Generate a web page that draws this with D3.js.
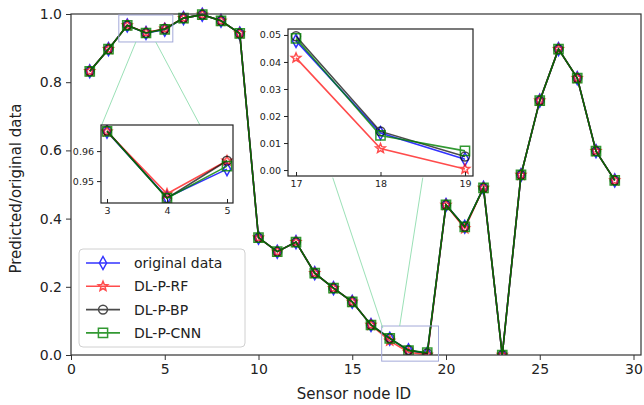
<!DOCTYPE html>
<html>
<head>
<meta charset="utf-8">
<script src="https://cdn.jsdelivr.net/npm/d3@7"></script>
<style>
  body { margin: 0; background: #fff; }
  text { font-family: "DejaVu Sans", sans-serif; fill: #222; }
</style>
</head>
<body>
<svg id="chart" width="644" height="405"></svg>
<script>
// data
const nodeIds = [1, 2, 3, 4, 5, 6, 7, 8, 9, 10, 11, 12, 13, 14, 15, 16, 17, 18, 19, 20, 21, 22, 23, 24, 25, 26, 27, 28, 29];
const originalData = [0.832, 0.897, 0.9665, 0.9445, 0.954, 0.988, 0.998, 0.980, 0.943, 0.344, 0.303, 0.331, 0.240, 0.196, 0.156, 0.088, 0.0478, 0.0137, 0.004, 0.440, 0.376, 0.490, 0.0, 0.528, 0.746, 0.897, 0.812, 0.598, 0.512];
const rfData       = [0.832, 0.897, 0.9665, 0.9458, 0.9568, 0.988, 0.998, 0.980, 0.943, 0.344, 0.303, 0.331, 0.240, 0.196, 0.156, 0.088, 0.0415, 0.0080, 0.0004, 0.440, 0.371, 0.490, 0.0, 0.528, 0.746, 0.897, 0.812, 0.598, 0.512];
const bpData       = [0.832, 0.897, 0.9668, 0.9443, 0.9568, 0.988, 0.998, 0.980, 0.943, 0.344, 0.303, 0.331, 0.240, 0.196, 0.156, 0.088, 0.0495, 0.0143, 0.0050, 0.440, 0.376, 0.490, 0.0, 0.528, 0.746, 0.897, 0.812, 0.598, 0.512];
const cnnData      = [0.832, 0.897, 0.9666, 0.9443, 0.9550, 0.988, 0.998, 0.980, 0.943, 0.344, 0.303, 0.331, 0.240, 0.196, 0.156, 0.088, 0.0487, 0.0128, 0.0071, 0.440, 0.376, 0.490, 0.0, 0.528, 0.746, 0.897, 0.812, 0.598, 0.512];
const seriesNames = ["original data", "DL-P-RF", "DL-P-BP", "DL-P-CNN"];

const xTicks = [0, 5, 10, 15, 20, 25, 30];
const yTicks = [0.0, 0.2, 0.4, 0.6, 0.8, 1.0];
const inset1XTicks = [3, 4, 5];
const inset1YTicks = [0.95, 0.96];
const inset2XTicks = [17, 18, 19];
const inset2YTicks = [0.00, 0.01, 0.02, 0.03, 0.04, 0.05];

const svg = d3.select("#chart");

const styles = [
    { color: "#0000ff", opacity: 0.8, marker: "diamond" },
    { color: "#ff0000", opacity: 0.7, marker: "star" },
    { color: "#000000", opacity: 0.7, marker: "circle" },
    { color: "#008000", opacity: 0.8, marker: "square" }
];
const allSeries = [originalData, rfData, bpData, cnnData].map((vals, i) => ({
    name: seriesNames[i],
    style: styles[i],
    points: nodeIds.map((id, j) => ({ x: id, y: vals[j] }))
}));

// marker shapes
function markerPath(type) {
    if (type === "diamond") return "M0,-6.5L3.6,0L0,6.5L-3.6,0Z";
    if (type === "square") return "M-4.6,-4.6H4.6V4.6H-4.6Z";
    if (type === "circle") return d3.symbol(d3.symbolCircle, 62)();
    // 5 point star
    let pts = [];
    for (let k = 0; k < 10; k++) {
        const r = k % 2 === 0 ? 5 : 2.2;
        const a = -Math.PI / 2 + k * Math.PI / 5;
        pts.push([r * Math.cos(a), r * Math.sin(a)]);
    }
    return "M" + pts.map(p => p.join(",")).join("L") + "Z";
}

function drawSeries(g, x, y, keep) {
    const line = d3.line().x(d => x(d.x)).y(d => y(d.y));
    allSeries.forEach(s => {
        const pts = s.points.filter(d => !keep || (d.x >= keep[0] && d.x <= keep[1]));
        const sg = g.append("g").attr("opacity", s.style.opacity);
        sg.append("path")
            .attr("d", line(pts))
            .attr("fill", "none")
            .attr("stroke", s.style.color)
            .attr("stroke-width", 1.6);
        sg.selectAll("path.m")
            .data(pts)
            .enter().append("path")
            .attr("class", "m")
            .attr("transform", d => `translate(${x(d.x)},${y(d.y)})`)
            .attr("d", markerPath(s.style.marker))
            .attr("fill", "none")
            .attr("stroke", s.style.color)
            .attr("stroke-width", 1.5);
    });
}

// **main axes**
const mLeft = 71, mRight = 641, mTop = 14, mBottom = 355;
const x = d3.scaleLinear().domain([0, 30.4]).range([mLeft, mRight]);
const y = d3.scaleLinear().domain([0, 1]).range([mBottom, mTop]);

const xAxis = svg.append("g").attr("transform", `translate(0,${mBottom})`)
    .call(d3.axisBottom(x).tickValues(xTicks).tickFormat(d3.format("d")).tickSize(5).tickPadding(4));
const yAxis = svg.append("g").attr("transform", `translate(${mLeft},0)`)
    .call(d3.axisLeft(y).tickValues(yTicks).tickFormat(d3.format(".1f")).tickSize(5).tickPadding(4));
[xAxis, yAxis].forEach(a => {
    a.select(".domain").remove();
    a.selectAll("line").attr("stroke", "#333").attr("stroke-width", 1);
    a.selectAll("text").attr("font-size", 14).attr("fill", "#222");
});

const clipMain = svg.append("clipPath").attr("id", "clipMain");
clipMain.append("rect").attr("x", mLeft).attr("y", mTop - 8).attr("width", mRight - mLeft).attr("height", mBottom - mTop + 8);

drawSeries(svg.append("g").attr("clip-path", "url(#clipMain)"), x, y, null);

// frame
svg.append("rect")
    .attr("x", mLeft).attr("y", mTop).attr("width", mRight - mLeft).attr("height", mBottom - mTop)
    .attr("fill", "none").attr("stroke", "#333").attr("stroke-width", 1.2);

svg.append("text").attr("x", (mLeft + mRight) / 2 - 2).attr("y", 399)
    .attr("text-anchor", "middle").attr("font-size", 15).text("Sensor node ID");
svg.append("text").attr("transform", `translate(21,${(mTop + mBottom) / 2 + 4}) rotate(-90)`)
    .attr("text-anchor", "middle").attr("font-size", 15).text("Predicted/original data");

// zoom boxes and connector lines
const boxColor = "#a3a9d9", connColor = "#8fdcae";
function zoomBox(x0, x1, y0, y1) {
    svg.append("rect")
        .attr("x", x(x0)).attr("y", y(y1))
        .attr("width", x(x1) - x(x0)).attr("height", y(y0) - y(y1))
        .attr("fill", "none").attr("stroke", boxColor).attr("stroke-width", 1);
}
function connector(a, b) {
    svg.append("line")
        .attr("x1", x(a[0])).attr("y1", y(a[1]))
        .attr("x2", x(b[0])).attr("y2", y(b[1]))
        .attr("stroke", connColor).attr("stroke-width", 0.9);
}
zoomBox(2.55, 5.43, 0.918, 0.997);
zoomBox(16.57, 19.6, -0.018, 0.085);
connector([3.46, 0.918], [1.64, 0.675]);
connector([4.52, 0.918], [6.87, 0.675]);
connector([16.63, 0.079], [13.96, 0.52]);
connector([17.53, 0.085], [18.76, 0.52]);

// **insets**
function inset(id, box, xDom, yDom, xt, yt, yFmt) {
    const ix = d3.scaleLinear().domain(xDom).range([box.x0, box.x1]);
    const iy = d3.scaleLinear().domain(yDom).range([box.y1, box.y0]);
    svg.append("rect")
        .attr("x", box.x0).attr("y", box.y0).attr("width", box.x1 - box.x0).attr("height", box.y1 - box.y0)
        .attr("fill", "#fff");
    const clipInner = svg.append("clipPath").attr("id", id + "in");
    clipInner.append("rect").attr("x", box.x0).attr("y", box.y0).attr("width", box.x1 - box.x0).attr("height", box.y1 - box.y0);

    const g = svg.append("g").attr("clip-path", `url(#${id}in)`);
    drawSeries(g, ix, iy, [xt[0], xt[xt.length - 1]]);

    svg.append("rect")
        .attr("x", box.x0).attr("y", box.y0).attr("width", box.x1 - box.x0).attr("height", box.y1 - box.y0)
        .attr("fill", "none").attr("stroke", "#222").attr("stroke-width", 1.2);

    const ax = svg.append("g").attr("transform", `translate(0,${box.y1})`)
        .call(d3.axisBottom(ix).tickValues(xt).tickFormat(d3.format("d")).tickSize(-4).tickPadding(4));
    const ay = svg.append("g").attr("transform", `translate(${box.x0},0)`)
        .call(d3.axisLeft(iy).tickValues(yt).tickFormat(d3.format(yFmt)).tickSize(4).tickPadding(3));
    [ax, ay].forEach(a => {
        a.select(".domain").remove();
        a.selectAll("line").attr("stroke", "#222");
        a.selectAll("text").attr("font-size", 9.5).attr("fill", "#222");
    });
}

inset("in1", { x0: 101, x1: 233, y0: 125, y1: 203 }, [2.9, 5.1], [0.9427, 0.9687], inset1XTicks, inset1YTicks, ".2f");
inset("in2", { x0: 288, x1: 473, y0: 29, y1: 176 }, [16.905, 19.095], [-0.0022, 0.0522], inset2XTicks, inset2YTicks, ".2f");

// **legend**
const legend = svg.append("g").attr("transform", "translate(79,249)");
legend.append("rect")
    .attr("width", 166).attr("height", 98).attr("rx", 4)
    .attr("fill", "#fff").attr("fill-opacity", 0.85)
    .attr("stroke", "#d0d0d0").attr("stroke-width", 1);
allSeries.forEach((s, i) => {
    const row = legend.append("g").attr("transform", `translate(0,${14 + i * 23.3})`).attr("opacity", s.style.opacity);
    row.append("line").attr("x1", 7).attr("x2", 41).attr("stroke", s.style.color).attr("stroke-width", 1.6);
    row.append("path").attr("transform", "translate(24,0)").attr("d", markerPath(s.style.marker))
        .attr("fill", "none").attr("stroke", s.style.color).attr("stroke-width", 1.5);
    legend.append("text").attr("x", 55).attr("y", 14 + i * 23.3 + 5).attr("font-size", 14).text(s.name);
});
</script>
</body>
</html>
